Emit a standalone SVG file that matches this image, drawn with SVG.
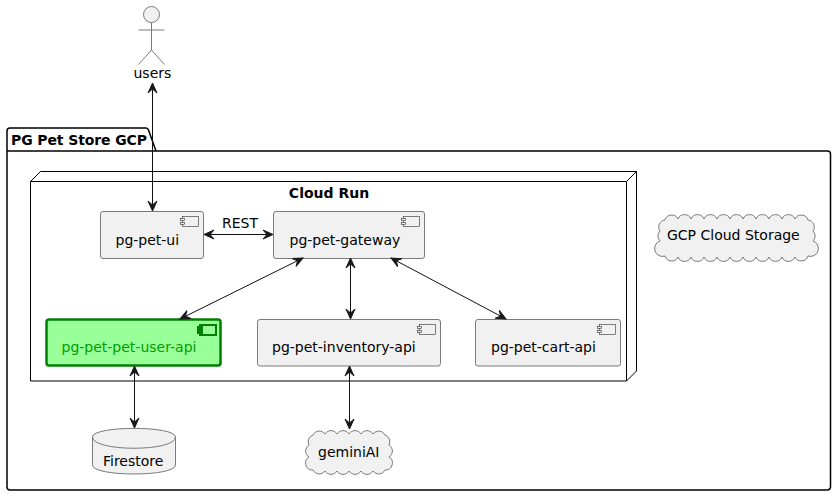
<svg xmlns="http://www.w3.org/2000/svg" width="836" height="496" viewBox="0 0 836 496">
<style>
text{font-family:"DejaVu Sans",sans-serif;font-size:14px;fill:#000}
.b{font-weight:bold}
.c{fill:#F1F1F1;stroke:#7a7a7a;stroke-width:1}
.i{fill:#F1F1F1;stroke:#303030;stroke-width:.6}
.g{fill:#99FF99;stroke:#008000;stroke-width:2.5}
.gi{fill:#99FF99;stroke:#008000;stroke-width:2}
.e{fill:none;stroke:#111;stroke-width:1;marker-start:url(#a);marker-end:url(#a)}
.f{fill:none;stroke:#000;stroke-width:1.5}
.n{fill:none;stroke:#000;stroke-width:1}
</style>
<defs>
<marker id="a" markerUnits="userSpaceOnUse" markerWidth="14" markerHeight="14" refX="12" refY="7" orient="auto-start-reverse" viewBox="0 0 14 14">
<path d="M12 7L2 2.500L6 7L2 11.500Z" fill="#181818" stroke="#181818" stroke-width="1"/>
</marker>
</defs>
<g id="pkg">
<path class="f" d="M7 151V131a3 3 0 0 1 3-3H146a3 3 0 0 1 2.500 2L156 151H827.500a3 3 0 0 1 3 3V487a3 3 0 0 1-3 3H10a3 3 0 0 1-3-3ZM7 151H156"/>
<text class="b" x="11" y="144.500" textLength="136">PG Pet Store GCP</text>
</g>
<g id="cloudrun">
<path class="n" d="M30.500 181.500L40.500 171.500H636.500V371L626.500 381H30.500ZM30.500 181.500H626.500V381M626.500 181.500L636.500 171.500"/>
<text class="b" x="329" y="198" text-anchor="middle">Cloud Run</text>
</g>
<g id="users">
<circle class="c" cx="151.500" cy="14.500" r="8"/>
<path fill="none" stroke="#7a7a7a" d="M151.500 22.500V50M138.500 30H164.500M151.500 50L138.500 64.500M151.500 50L164.500 64.500"/>
<text x="133.500" y="78">users</text>
</g>
<g id="ui">
<rect class="c" x="100.500" y="211.500" width="103" height="47" rx="2.500"/>
<rect class="i" x="182.500" y="216.500" width="16" height="10"/><rect class="i" x="180.500" y="218.500" width="4" height="2"/><rect class="i" x="180.500" y="222.500" width="4" height="2"/>
<text x="115.500" y="245">pg-pet-ui</text>
</g>
<g id="gateway">
<rect class="c" x="273.500" y="211.500" width="151" height="47" rx="2.500"/>
<rect class="i" x="403.500" y="216.500" width="16" height="10"/><rect class="i" x="401.500" y="218.500" width="4" height="2"/><rect class="i" x="401.500" y="222.500" width="4" height="2"/>
<text x="289.500" y="245">pg-pet-gateway</text>
</g>
<g id="userapi">
<rect class="g" x="46.500" y="319.500" width="174" height="46" rx="2.500"/>
<rect class="gi" x="200" y="325" width="16" height="10"/><rect class="gi" x="198" y="327" width="4" height="2"/><rect class="gi" x="198" y="331" width="4" height="2"/>
<text x="61.500" y="352" style="fill:#00A000">pg-pet-pet-user-api</text>
</g>
<g id="inventory">
<rect class="c" x="257.500" y="319.500" width="183" height="46.500" rx="2.500"/>
<rect class="i" x="419.500" y="324.500" width="16" height="10"/><rect class="i" x="417.500" y="326.500" width="4" height="2"/><rect class="i" x="417.500" y="330.500" width="4" height="2"/>
<text x="272" y="352">pg-pet-inventory-api</text>
</g>
<g id="cart">
<rect class="c" x="475.500" y="319.500" width="145" height="46.500" rx="2.500"/>
<rect class="i" x="599.500" y="324.500" width="16" height="10"/><rect class="i" x="597.500" y="326.500" width="4" height="2"/><rect class="i" x="597.500" y="330.500" width="4" height="2"/>
<text x="491" y="352">pg-pet-cart-api</text>
</g>
<g id="firestore">
<path class="c" d="M92.500 437C92.500 425.500 175.500 425.500 175.500 437V465C175.500 477 92.500 477 92.500 465Z"/>
<path class="c" style="fill:none" d="M92.500 437C92.500 452 175.500 452 175.500 437"/>
<text x="103" y="466">Firestore</text>
</g>
<g id="gemini">
<path class="c" d="M313 435a7 7 0 0 1 12-1a7 7 0 0 1 12 0a7 7 0 0 1 12 0a7 7 0 0 1 12 0a7 7 0 0 1 12 0a7 7 0 0 1 12 1a7 7 0 0 1 4 10a7 7 0 0 1 0 12a7 7 0 0 1-4 13a7 7 0 0 1-12 1a7 7 0 0 1-12 0a7 7 0 0 1-12 0a7 7 0 0 1-12 0a7 7 0 0 1-12 0a7 7 0 0 1-12-1a7 7 0 0 1-4-13a7 7 0 0 1 0-12a7 7 0 0 1 4-10Z"/>
<text x="318" y="457">geminiAI</text>
</g>
<g id="storage">
<path class="c" d="M665 220a7 7 0 0 1 13-1a7 7 0 0 1 13 0a7 7 0 0 1 13 0a7 7 0 0 1 13 0a7 7 0 0 1 13 0a7 7 0 0 1 13 0a7 7 0 0 1 13 0a7 7 0 0 1 13 0a7 7 0 0 1 13 0a7 7 0 0 1 13 0a7 7 0 0 1 13 1a7 7 0 0 1 5 11a7 7 0 0 1 0 10a7 7 0 0 1-5 15a7 7 0 0 1-13 1a7 7 0 0 1-13 0a7 7 0 0 1-13 0a7 7 0 0 1-13 0a7 7 0 0 1-13 0a7 7 0 0 1-13 0a7 7 0 0 1-13 0a7 7 0 0 1-13 0a7 7 0 0 1-13 0a7 7 0 0 1-13 0a7 7 0 0 1-13-1a7 7 0 0 1-5-15a7 7 0 0 1 0-10a7 7 0 0 1 5-11Z"/>
<text x="667" y="240">GCP Cloud Storage</text>
</g>
<g id="connectors">
<path class="e" d="M152.500 83V211"/>
<path class="e" d="M204 234.500H273"/>
<path class="e" d="M303 258L180 319"/>
<path class="e" d="M350.500 258V319"/>
<path class="e" d="M391 258L506 319"/>
<path class="e" d="M134.500 366V428"/>
<path class="e" d="M349.500 366V429"/>
<text x="222" y="228">REST</text>
</g>
</svg>
